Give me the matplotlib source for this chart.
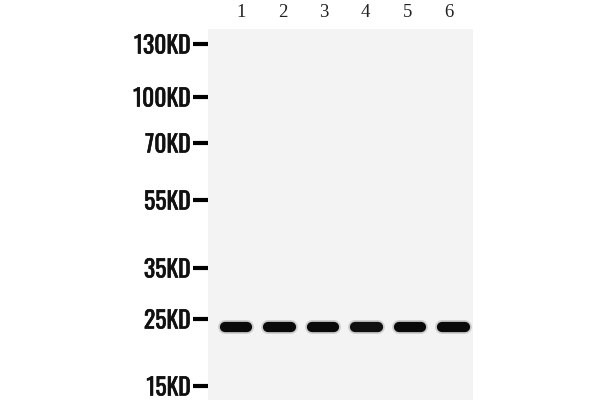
import matplotlib
matplotlib.use('Agg')
import matplotlib.pyplot as plt
import matplotlib.patheffects as pe

# Western blot: 6 lanes, single band just below the 25KD marker
lanes = [1, 2, 3, 4, 5, 6]
lane_labels = ['1', '2', '3', '4', '5', '6']
band_migration = [327, 327, 327, 327, 327, 327]   # migration distance (gel px from top)
band_intensity = [1.0, 1.0, 1.0, 0.97, 1.0, 1.0]

marker_labels = ['130KD', '100KD', '70KD', '55KD', '35KD', '25KD', '15KD']
marker_migration = [44, 97, 143, 200, 268, 319, 386]

fig = plt.figure(figsize=(6, 4), dpi=100)
fig.patch.set_facecolor('white')
ax = fig.add_axes([208 / 600, 0, 265 / 600, 371 / 400])
ax.set_facecolor('#f3f3f3')
ax.set_xlim(0.356, 6.448)
ax.set_ylim(400, 29)
for s in ax.spines.values():
    s.set_visible(False)

# bands: soft halo + dark core with rounded ends
for x, y, a in zip(lanes, band_migration, band_intensity):
    xs = [x - 0.26, x + 0.26]
    ax.plot(xs, [y, y], color='#777777', lw=10, alpha=0.3 * a,
            solid_capstyle='round')
    ax.plot(xs, [y, y], color='#0a0a0a', lw=7.4, alpha=a,
            solid_capstyle='round')

# lane numbers on top (slightly tighter spacing than the bands)
ax.xaxis.tick_top()
ax.set_xticks([3.5 + (l - 3.5) * 0.956 for l in lanes], lane_labels)
ax.tick_params(axis='x', length=0, pad=6, labelsize=13.5, colors='#222222')
for t in ax.get_xticklabels():
    t.set_family(['Liberation Serif', 'DejaVu Serif'])

# molecular weight markers as ticks
ax.set_yticks(marker_migration, marker_labels)
ax.tick_params(axis='y', direction='out', length=10.5, width=3.0, pad=2,
               labelsize=17, color='black')
for t in ax.get_yticklabels():
    t.set_family(['Oswald', 'DejaVu Sans'])
    t.set_color('#111111')
    t.set_path_effects([pe.withStroke(linewidth=0.45, foreground='#111111')])

fig.savefig('out.png', dpi=100, facecolor='white')
